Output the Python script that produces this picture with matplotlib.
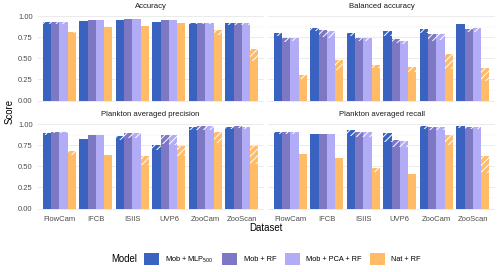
import numpy as np
import matplotlib
matplotlib.use("Agg")
import matplotlib.pyplot as plt
from matplotlib.patches import Patch

plt.rcParams['font.family'] = ['Liberation Sans', 'DejaVu Sans']
plt.rcParams['mathtext.fontset'] = 'custom'
plt.rcParams['mathtext.rm'] = 'Liberation Sans'
plt.rcParams['mathtext.it'] = 'Liberation Sans:italic'
plt.rcParams['hatch.linewidth'] = 0.7

datasets = ["FlowCam", "IFCB", "ISIIS", "UVP6", "ZooCam", "ZooScan"]
models = ["Mob + MLP$_{500}$", "Mob + RF", "Mob + PCA + RF", "Nat + RF"]
colors = ["#3a62c0", "#7d78c3", "#b2abf6", "#ffbb66"]
metrics = ["Accuracy", "Balanced accuracy", "Plankton averaged precision", "Plankton averaged recall"]

# upper (best) and lower (solid) values, rows = models, cols = datasets
acc_hi = [[0.93, 0.94, 0.953, 0.935, 0.92, 0.915],
          [0.935, 0.953, 0.964, 0.955, 0.92, 0.918],
          [0.935, 0.953, 0.964, 0.955, 0.92, 0.918],
          [0.81, 0.866, 0.88, 0.913, 0.834, 0.61]]
acc_lo = [[0.90, 0.94, 0.953, 0.935, 0.90, 0.89],
          [0.905, 0.953, 0.964, 0.955, 0.905, 0.893],
          [0.905, 0.953, 0.964, 0.955, 0.905, 0.893],
          [0.795, 0.866, 0.88, 0.913, 0.77, 0.467]]
bal_hi = [[0.795, 0.862, 0.795, 0.822, 0.846, 0.90],
          [0.736, 0.834, 0.736, 0.728, 0.783, 0.846],
          [0.736, 0.82, 0.736, 0.704, 0.787, 0.854],
          [0.302, 0.479, 0.42, 0.40, 0.546, 0.38]]
bal_lo = [[0.767, 0.82, 0.767, 0.767, 0.80, 0.90],
          [0.696, 0.755, 0.704, 0.677, 0.704, 0.807],
          [0.70, 0.736, 0.704, 0.665, 0.716, 0.815],
          [0.254, 0.361, 0.38, 0.333, 0.369, 0.234]]
prec_hi = [[0.89, 0.822, 0.858, 0.751, 0.96, 0.96],
           [0.905, 0.87, 0.897, 0.87, 0.976, 0.976],
           [0.905, 0.87, 0.895, 0.87, 0.976, 0.968],
           [0.68, 0.633, 0.62, 0.74, 0.909, 0.74]]
prec_lo = [[0.87, 0.822, 0.81, 0.692, 0.929, 0.937],
           [0.89, 0.87, 0.838, 0.76, 0.929, 0.95],
           [0.89, 0.87, 0.835, 0.75, 0.929, 0.94],
           [0.633, 0.633, 0.515, 0.625, 0.779, 0.527]]
rec_hi = [[0.90, 0.878, 0.929, 0.89, 0.976, 0.976],
          [0.90, 0.878, 0.90, 0.81, 0.96, 0.96],
          [0.90, 0.878, 0.90, 0.80, 0.96, 0.96],
          [0.641, 0.60, 0.483, 0.408, 0.87, 0.62]]
rec_lo = [[0.878, 0.878, 0.862, 0.783, 0.94, 0.949],
          [0.878, 0.878, 0.842, 0.724, 0.93, 0.94],
          [0.878, 0.878, 0.842, 0.724, 0.93, 0.94],
          [0.641, 0.60, 0.428, 0.408, 0.751, 0.417]]

his = [acc_hi, bal_hi, prec_hi, rec_hi]
los = [acc_lo, bal_lo, prec_lo, rec_lo]

W, H = 500, 272
fig = plt.figure(figsize=(W / 100, H / 100), dpi=100)

xl = [37.5, 268.4]
pw = 226.3
yt = [11.8, 119.8]
ph = 93.0

tick_fs = 5.5
x = np.arange(len(datasets))
bw = 0.9 / len(models)

for k, metric in enumerate(metrics):
    r, c = divmod(k, 2)
    ax = fig.add_axes([xl[c] / W, 1 - (yt[r] + ph) / H, pw / W, ph / H])
    ax.set_xlim(-0.6, len(datasets) - 0.4)
    ax.set_ylim(-0.05, 1.05)
    for s in ax.spines.values():
        s.set_visible(False)
    ax.set_yticks([0, 0.25, 0.5, 0.75, 1.0])
    ax.set_yticks([0.125, 0.375, 0.625, 0.875], minor=True)
    ax.grid(axis='y', which='major', color='#e8e8e8', lw=0.6)
    ax.grid(axis='y', which='minor', color='#f2f2f2', lw=0.35)
    ax.set_axisbelow(True)
    ax.tick_params(which='both', length=0)
    ax.set_xticks(x)
    if r == 1:
        ax.set_xticklabels(datasets, fontsize=tick_fs, color='#4d4d4d')
        ax.tick_params(axis='x', pad=2.5)
    else:
        ax.set_xticklabels([])
    if c == 0:
        ax.set_yticklabels(["0.00", "0.25", "0.50", "0.75", "1.00"], fontsize=tick_fs, color='#4d4d4d')
        ax.tick_params(axis='y', pad=3.5)
    else:
        ax.set_yticklabels([])
    ax.set_title(metric, fontsize=5.6, color='#1a1a1a', pad=2.5)
    hi = his[k]
    lo = los[k]
    for i in range(len(models)):
        pos = x + (i - (len(models) - 1) / 2) * bw
        lo_v = np.array(lo[i])
        hi_v = np.array(hi[i])
        ax.bar(pos, lo_v, width=bw, color=colors[i], linewidth=0)
        ax.bar(pos, hi_v - lo_v, bottom=lo_v, width=bw, facecolor=colors[i],
               edgecolor='white', hatch='/////', linewidth=0)

fig.text(9.5 / W, 1 - 112 / H, "Score", rotation=90, ha='center', va='center', fontsize=6.9)
fig.text(266 / W, 1 - 228 / H, "Dataset", ha='center', va='center', fontsize=6.9)
fig.text(111.7 / W, 1 - 259 / H, "Model", ha='left', va='center', fontsize=6.9)

handles = [Patch(facecolor=col, edgecolor='none') for col in colors]
fig.legend(handles, models, loc='center left', bbox_to_anchor=(144 / W, 1 - 259 / H),
           ncol=4, frameon=False, fontsize=5.3, handlelength=2.05, handleheight=2.05,
           handletextpad=0.85, columnspacing=1.15, borderpad=0, borderaxespad=0)

fig.savefig("out.png", dpi=100)
